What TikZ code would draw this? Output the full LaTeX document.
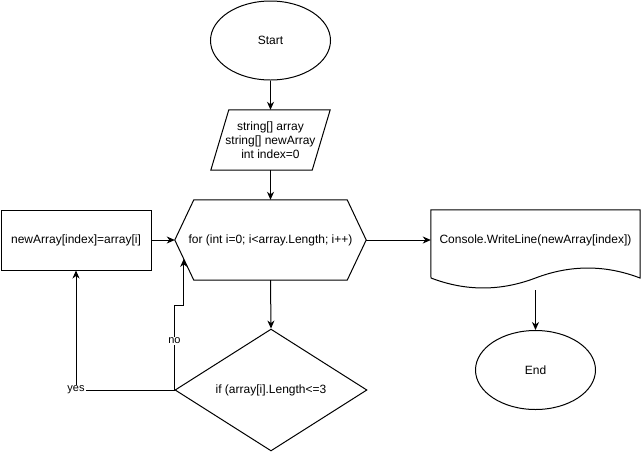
\documentclass[tikz,border=0pt]{standalone}
\usepackage{fontspec}
\setmainfont{Liberation Sans}
\usetikzlibrary{shapes.geometric,arrows.meta,calc}
\begin{document}
\begin{tikzpicture}[x=1pt,y=-1pt,
  every node/.style={font=\fontsize{12}{14}\selectfont, text=black, inner sep=0pt},
  outline/.style={draw=black, line width=1pt},
  arr/.style={draw=black, line width=1pt, -{Stealth[length=8pt,width=7pt,inset=2.5pt]}},
  lbl/.style={fill=white, inner sep=1pt, font=\fontsize{11}{13}\selectfont},
  term/.style={outline, ellipse, minimum width=120pt, minimum height=79pt},
  plainbox/.style={minimum width=#1, minimum height=60pt}
]
\useasboundingbox (0,0) rectangle (641,451);

% Start / End
\node[term] (start) at (270.5,40.5) {Start};
\node[term] (end) at (535.5,370) {End};

% parallelogram (input)
\node[plainbox=101pt, align=center] (par) at (270.5,140) {string[] array\\string[] newArray\\int index=0};
\draw[outline] ([xshift=9pt]par.north west) -- ([xshift=9pt]par.north east)
  -- ([xshift=-9pt]par.south east) -- ([xshift=-9pt]par.south west) -- cycle;

% hexagon (loop)
\node[minimum width=191pt, minimum height=80pt] (hex) at (270.5,240) {for (int i=0; i<array.Length; i++)};
\draw[outline] (hex.west) -- ([xshift=19pt]hex.north west) -- ([xshift=-19pt]hex.north east)
  -- (hex.east) -- ([xshift=-19pt]hex.south east) -- ([xshift=19pt]hex.south west) -- cycle;

% process box
\node[outline, minimum width=150pt, minimum height=60pt] (proc) at (76,240) {newArray[index]=array[i]};

% decision
\node[outline, diamond, minimum width=192pt, minimum height=120pt] (dec) at (271,390) {if (array[i].Length<=3};

% document (output)
\node[plainbox=209pt] (doc) at (535.5,240) {Console.WriteLine(newArray[index])};
\draw[outline] (doc.north west) -- (doc.north east) -- (640,278)
  .. controls (605.3,264.7) and (570.5,264.7) .. (535.5,278)
  .. controls (500.5,291.3) and (465.7,291.3) .. (431,278) -- cycle;
\coordinate (docbot) at ([yshift=-20pt]doc.south);

% connectors
\draw[arr] (start) -- (par.north);
\draw[arr] (par.south) -- (hex.north);
\draw[arr] (proc.east) -- (hex.west);
\draw[arr] (hex.east) -- (hex.east -| doc.west);
\draw[arr] (hex.south) -- (dec.north);
\draw[arr] (docbot) -- (end.north);

\coordinate (noend) at ($(hex.west)!0.47!([xshift=19pt]hex.south west)$);
\draw[arr] (dec.west) -- ++(0,-85) coordinate (nocorner) -| (noend);
\node[lbl] (nolbl) at ($(dec.west)!0.58!(nocorner)$) {no};

\draw[arr] (dec.west) -| (proc.south);
\node[lbl] (yeslbl) at (dec.west -| proc.south) {yes};
\end{tikzpicture}
\end{document}
